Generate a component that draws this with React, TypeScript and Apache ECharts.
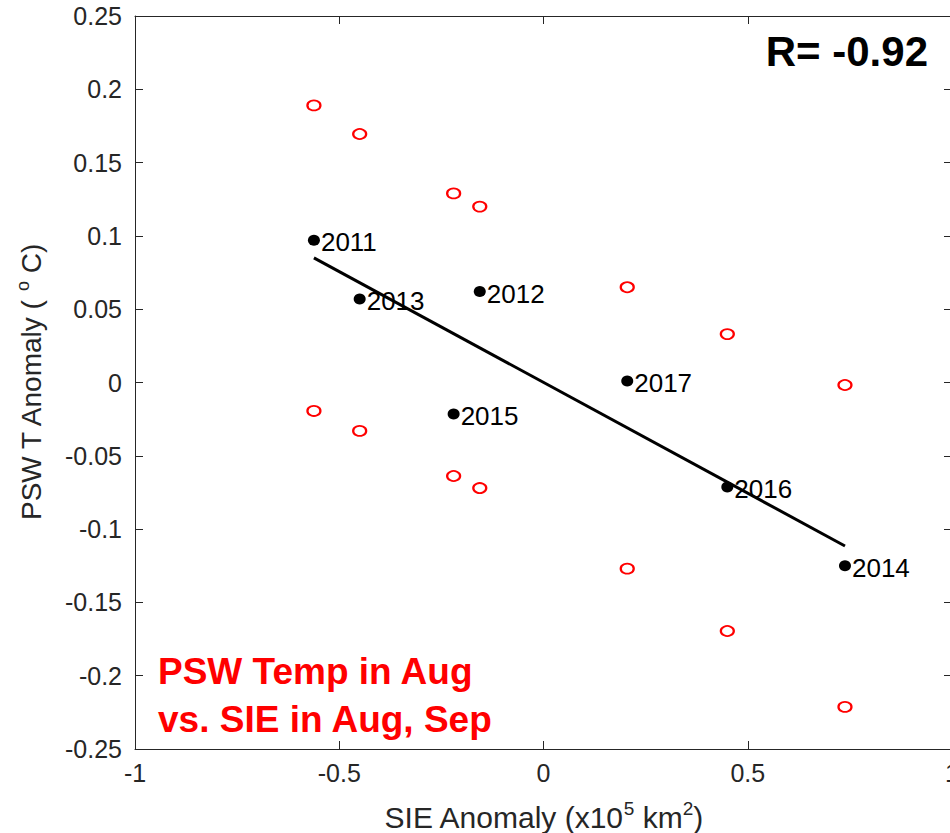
import React, { useEffect, useRef } from "react";
import * as echarts from "echarts";

const years = ["2011", "2013", "2012", "2015", "2017", "2016", "2014"];
const sieAnom = [-0.562, -0.45, -0.156, -0.22, 0.205, 0.45, 0.738];
const pswAnom = [0.097, 0.057, 0.062, -0.0215, 0.001, -0.0713, -0.125];
const redUpper = [0.189, 0.1695, 0.12, 0.129, 0.065, 0.033, -0.0017];
const redLower = [-0.0194, -0.033, -0.072, -0.0638, -0.127, -0.1695, -0.2213];
const fitX = [-0.562, 0.738];
const fitY = [0.085, -0.1115];
const xTicks = { min: -1, max: 1, step: 0.5 };
const yTicks = { min: -0.25, max: 0.25, step: 0.05 };

const FONT = "'Liberation Sans', Arial, Helvetica, sans-serif";
const AXIS_COLOR = "#262626";

export default function App() {
  const ref = useRef<HTMLDivElement>(null);
  useEffect(() => {
    document.body.style.margin = "0";
    const chart = echarts.init(ref.current!, null, { renderer: "svg" });
    const fmt = (v: number) => String(Math.round(v * 100) / 100);
    const redData: number[][] = [];
    sieAnom.forEach((x, i) => {
      redData.push([x, redUpper[i]]);
      redData.push([x, redLower[i]]);
    });
    const axisCommon = {
      axisLine: { show: true, onZero: false, lineStyle: { color: AXIS_COLOR, width: 1 } },
      axisTick: { show: true, inside: true, length: 8, lineStyle: { color: AXIS_COLOR } },
      splitLine: { show: false },
    };
    chart.setOption({
      animation: false,
      backgroundColor: "#fff",
      grid: { left: 135, top: 16, width: 817, height: 733, containLabel: false, outerBoundsMode: "none" },
      xAxis: [
        {
          type: "value",
          min: xTicks.min,
          max: xTicks.max,
          interval: xTicks.step,
          position: "bottom",
          ...axisCommon,
          axisLabel: { formatter: fmt, fontSize: 25, color: AXIS_COLOR, fontFamily: FONT, margin: 11 },
          name: "{a|SIE Anomaly (x10}{s|5}{a| km}{s|2}{a|)}",
          nameLocation: "middle",
          nameGap: 50,
          nameTextStyle: {
            rich: {
              a: { fontSize: 30, color: AXIS_COLOR, fontFamily: FONT },
              s: { fontSize: 19, color: AXIS_COLOR, fontFamily: FONT, padding: [0, 0, 17, 0] },
            },
          },
        },
        {
          type: "value",
          min: xTicks.min,
          max: xTicks.max,
          interval: xTicks.step,
          position: "top",
          ...axisCommon,
          axisLabel: { show: false },
        },
      ],
      yAxis: [
        {
          type: "value",
          min: yTicks.min,
          max: yTicks.max,
          interval: yTicks.step,
          position: "left",
          ...axisCommon,
          axisLabel: { formatter: fmt, fontSize: 25, color: AXIS_COLOR, fontFamily: FONT, margin: 13 },
          name: "{a|PSW T Anomaly ( }{s|o}{a| C)}",
          nameLocation: "middle",
          nameGap: 87,
          nameRotate: 90,
          nameTextStyle: {
            rich: {
              a: { fontSize: 28, color: AXIS_COLOR, fontFamily: FONT },
              s: { fontSize: 18, color: AXIS_COLOR, fontFamily: FONT, padding: [0, 0, 16, 0] },
            },
          },
        },
        {
          type: "value",
          min: yTicks.min,
          max: yTicks.max,
          interval: yTicks.step,
          position: "right",
          ...axisCommon,
          axisLabel: { show: false },
        },
      ],
      series: [
        {
          type: "scatter",
          data: redData,
          symbol: "emptyCircle",
          symbolSize: [13, 10],
          itemStyle: { color: "#ff0000", borderColor: "#ff0000", borderWidth: 1.6, opacity: 1 },
          z: 2,
        },
        {
          type: "scatter",
          data: sieAnom.map((x, i) => [x, pswAnom[i], years[i]]),
          symbol: "circle",
          symbolSize: [12, 11],
          itemStyle: { color: "#000", opacity: 1 },
          label: {
            show: true,
            position: "right",
            distance: 1,
            offset: [0, 2],
            formatter: (p: any) => p.data[2],
            fontSize: 26,
            color: "#000",
            fontFamily: FONT,
          },
          z: 3,
        },
        {
          type: "line",
          data: fitX.map((x, i) => [x, fitY[i]]),
          symbol: "none",
          lineStyle: { color: "#000", width: 3 },
          z: 4,
        },
      ],
      graphic: [
        {
          type: "text",
          right: 22,
          top: 30,
          style: { text: "R= -0.92", fontSize: 42, fontWeight: "bold", fill: "#000", fontFamily: FONT },
        },
        {
          type: "text",
          left: 158,
          top: 647,
          style: {
            text: "PSW Temp in Aug\nvs. SIE in Aug, Sep",
            fontSize: 37,
            lineHeight: 48,
            fontWeight: "bold",
            fill: "#ff0000",
            fontFamily: FONT,
          },
        },
      ],
    });
    return () => chart.dispose();
  }, []);
  return <div ref={ref} style={{ width: 950, height: 833 }} />;
}
